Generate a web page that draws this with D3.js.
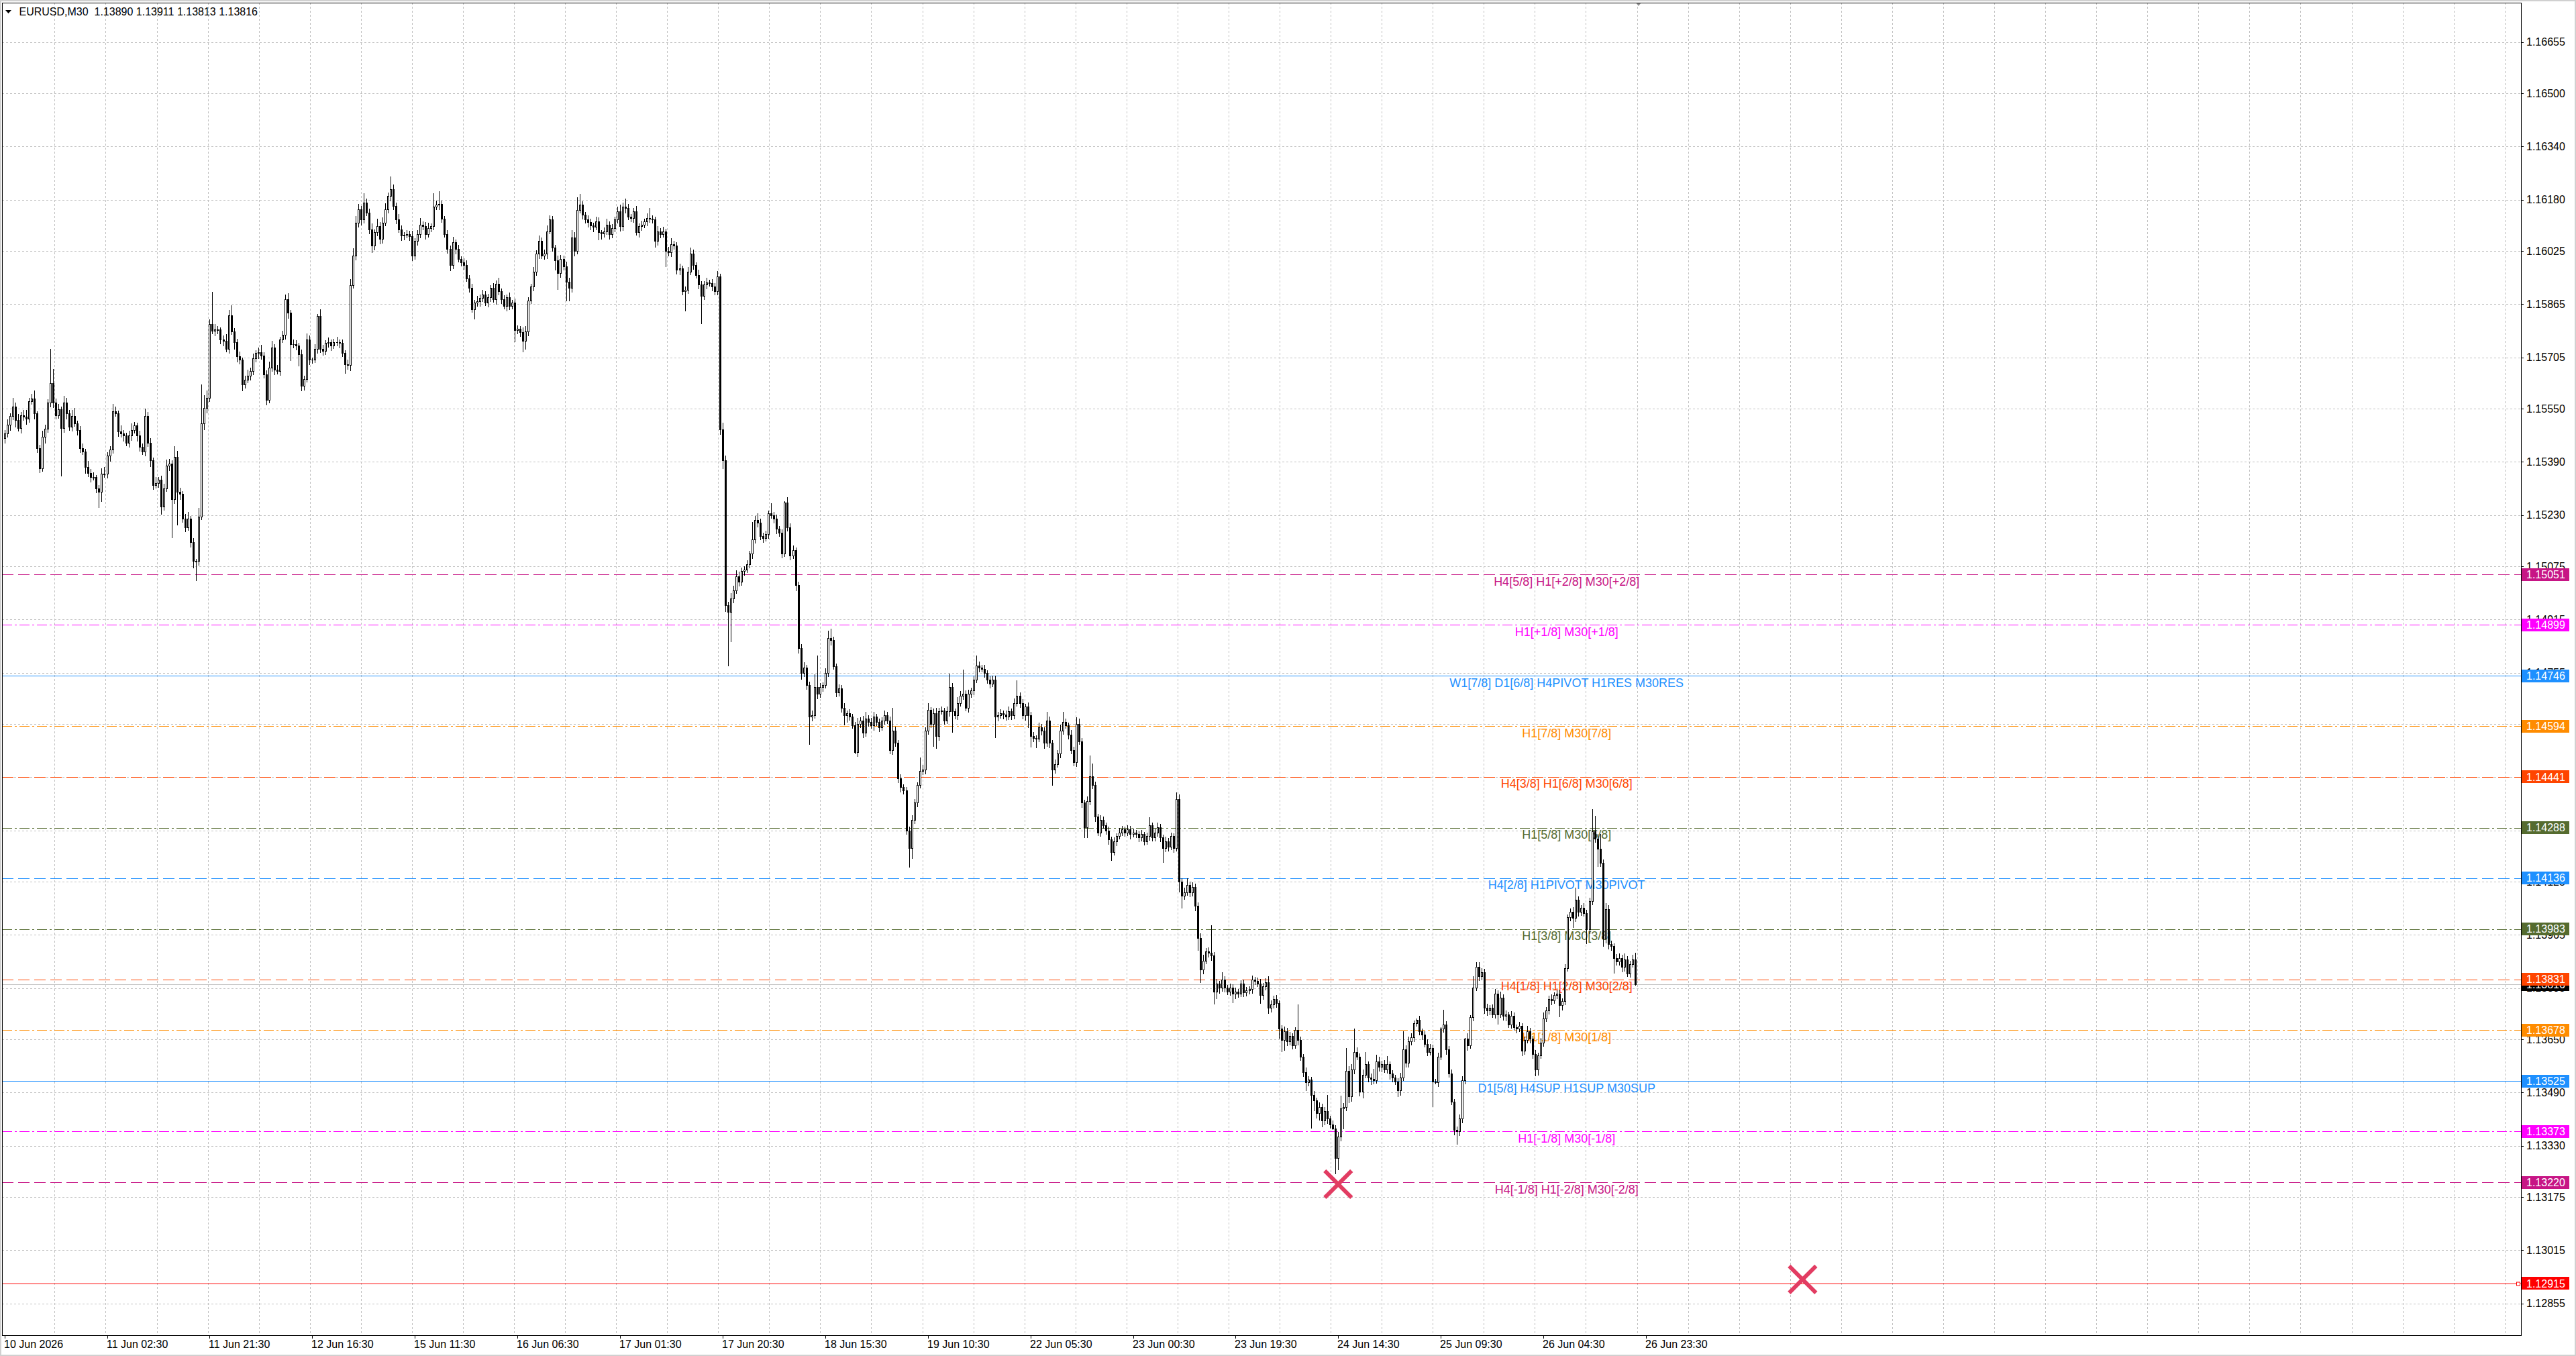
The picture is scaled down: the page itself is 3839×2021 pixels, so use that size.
<!DOCTYPE html>
<html>
<head>
<meta charset="utf-8">
<script src="https://cdn.jsdelivr.net/npm/d3@7"></script>
<style>
html, body { margin: 0; padding: 0; background: #fff; overflow: hidden; }
svg { display: block; }
text { font-family: "Liberation Sans", Arial, sans-serif; }
</style>
</head>
<body>
<script>
const w = 3839;
const h = 2021;

// * DATA
const symbol = "EURUSD,M30";
const timeLabels = [
	"10 Jun 2026", "11 Jun 02:30", "11 Jun 21:30", "12 Jun 16:30", "15 Jun 11:30",
	"16 Jun 06:30", "17 Jun 01:30", "17 Jun 20:30", "18 Jun 15:30", "19 Jun 10:30",
	"22 Jun 05:30", "23 Jun 00:30", "23 Jun 19:30", "24 Jun 14:30", "25 Jun 09:30",
	"26 Jun 04:30", "26 Jun 23:30",
];
const barsPerLabel = 38;
const priceTicks = [
	1.16655, 1.165, 1.1634, 1.1618, 1.16025, 1.15865, 1.15705, 1.1555, 1.1539,
	1.1523, 1.15075, 1.14915, 1.14755, 1.146, 1.1444, 1.1428, 1.14125, 1.13965,
	1.13805, 1.1365, 1.1349, 1.1333, 1.13175, 1.13015, 1.12855,
];

const firstOpen = 1.1546;
// M30 closes, one per bar
const closes = [
	// 0
	1.15474, 1.15500, 1.15528, 1.15555, 1.15515, 1.15490, 1.15530, 1.15525, 1.15520, 1.15572,
	1.15580, 1.15535, 1.15430, 1.15370, 1.15465, 1.15488, 1.15568, 1.15626, 1.15568, 1.15530,
	1.15548, 1.15490, 1.15568, 1.15535, 1.15495, 1.15528, 1.15505, 1.15485, 1.15430, 1.15420,
	1.15373, 1.15356, 1.15343, 1.15343, 1.15309, 1.15299, 1.15353, 1.15353, 1.15407, 1.15427,
	1.15542, 1.15535, 1.15481, 1.15474, 1.15468, 1.15447, 1.15468, 1.15485, 1.15498, 1.15468,
	// 50
	1.15434, 1.15420, 1.15528, 1.15447, 1.15393, 1.15319, 1.15326, 1.15336, 1.15255, 1.15309,
	1.15377, 1.15383, 1.15276, 1.15404, 1.15299, 1.15292, 1.15218, 1.15191, 1.15218, 1.15148,
	1.15090, 1.15090, 1.15225, 1.15504, 1.15551, 1.15582, 1.15804, 1.15784, 1.15787, 1.15787,
	1.15757, 1.15754, 1.15730, 1.15831, 1.15781, 1.15750, 1.15707, 1.15697, 1.15622, 1.15636,
	1.15649, 1.15663, 1.15700, 1.15717, 1.15720, 1.15710, 1.15653, 1.15575, 1.15673, 1.15734,
	// 100
	1.15666, 1.15663, 1.15757, 1.15771, 1.15878, 1.15838, 1.15744, 1.15744, 1.15740, 1.15713,
	1.15619, 1.15639, 1.15757, 1.15697, 1.15697, 1.15730, 1.15828, 1.15730, 1.15723, 1.15747,
	1.15750, 1.15740, 1.15750, 1.15750, 1.15747, 1.15717, 1.15683, 1.15680, 1.15922, 1.16010,
	1.16110, 1.16150, 1.16120, 1.16170, 1.16140, 1.16090, 1.16040, 1.16080, 1.16100, 1.16060,
	1.16110, 1.16150, 1.16190, 1.16210, 1.16160, 1.16120, 1.16090, 1.16070, 1.16072, 1.16074,
	// 150
	1.16068, 1.16011, 1.16055, 1.16074, 1.16104, 1.16100, 1.16074, 1.16094, 1.16099, 1.16158,
	1.16163, 1.16165, 1.16122, 1.16074, 1.16030, 1.15982, 1.16050, 1.16030, 1.16001, 1.15991,
	1.15982, 1.15942, 1.15913, 1.15849, 1.15869, 1.15872, 1.15883, 1.15893, 1.15869, 1.15884,
	1.15913, 1.15879, 1.15925, 1.15903, 1.15879, 1.15859, 1.15884, 1.15859, 1.15869, 1.15786,
	1.15790, 1.15780, 1.15754, 1.15781, 1.15874, 1.15918, 1.15962, 1.16016, 1.16055, 1.16011,
	// 200
	1.16016, 1.16084, 1.16119, 1.16035, 1.15996, 1.15957, 1.16001, 1.15977, 1.15932, 1.15913,
	1.16065, 1.16025, 1.16148, 1.16163, 1.16133, 1.16119, 1.16111, 1.16101, 1.16098, 1.16114,
	1.16080, 1.16077, 1.16082, 1.16104, 1.16074, 1.16094, 1.16119, 1.16143, 1.16099, 1.16158,
	1.16153, 1.16127, 1.16124, 1.16143, 1.16081, 1.16099, 1.16104, 1.16114, 1.16124, 1.16121,
	1.16119, 1.16055, 1.16084, 1.16074, 1.16084, 1.16025, 1.16021, 1.16045, 1.16040, 1.15967,
	// 250
	1.15972, 1.15903, 1.15908, 1.15962, 1.16016, 1.15982, 1.15952, 1.15923, 1.15889, 1.15923,
	1.15930, 1.15928, 1.15918, 1.15903, 1.15947, 1.15487, 1.15393, 1.14957, 1.14938, 1.14977,
	1.15002, 1.15044, 1.15028, 1.15060, 1.15065, 1.15081, 1.15112, 1.15155, 1.15213, 1.15205,
	1.15166, 1.15160, 1.15171, 1.15234, 1.15229, 1.15218, 1.15187, 1.15176, 1.15113, 1.15266,
	1.15192, 1.15107, 1.15123, 1.15018, 1.14827, 1.14753, 1.14769, 1.14716, 1.14621, 1.14626,
	// 300
	1.14711, 1.14690, 1.14711, 1.14716, 1.14753, 1.14859, 1.14852, 1.14774, 1.14695, 1.14706,
	1.14648, 1.14626, 1.14631, 1.14622, 1.14595, 1.14515, 1.14600, 1.14610, 1.14573, 1.14616,
	1.14605, 1.14595, 1.14621, 1.14605, 1.14590, 1.14610, 1.14626, 1.14610, 1.14521, 1.14579,
	1.14542, 1.14436, 1.14410, 1.14399, 1.14278, 1.14225, 1.14310, 1.14362, 1.14415, 1.14458,
	1.14463, 1.14579, 1.14642, 1.14600, 1.14632, 1.14563, 1.14637, 1.14640, 1.14610, 1.14637,
	// 350
	1.14711, 1.14637, 1.14626, 1.14663, 1.14685, 1.14690, 1.14648, 1.14690, 1.14700, 1.14732,
	1.14775, 1.14769, 1.14766, 1.14753, 1.14732, 1.14721, 1.14732, 1.14621, 1.14626, 1.14631,
	1.14628, 1.14621, 1.14637, 1.14626, 1.14663, 1.14685, 1.14663, 1.14626, 1.14653, 1.14626,
	1.14563, 1.14558, 1.14555, 1.14589, 1.14579, 1.14542, 1.14610, 1.14542, 1.14463, 1.14479,
	1.14510, 1.14579, 1.14605, 1.14595, 1.14568, 1.14521, 1.14484, 1.14600, 1.14547, 1.14362,
	// 400
	1.14288, 1.14368, 1.14441, 1.14415, 1.14320, 1.14273, 1.14310, 1.14294, 1.14278, 1.14251,
	1.14214, 1.14246, 1.14262, 1.14273, 1.14283, 1.14273, 1.14283, 1.14267, 1.14273, 1.14267,
	1.14257, 1.14267, 1.14246, 1.14262, 1.14294, 1.14257, 1.14273, 1.14288, 1.14257, 1.14225,
	1.14246, 1.14230, 1.14262, 1.14225, 1.14373, 1.14124, 1.14082, 1.14093, 1.14114, 1.14093,
	1.14109, 1.14051, 1.13955, 1.13860, 1.13887, 1.13914, 1.13910, 1.13902, 1.13794, 1.13817,
	// 450
	1.13806, 1.13829, 1.13806, 1.13794, 1.13806, 1.13786, 1.13794, 1.13786, 1.13817, 1.13790,
	1.13798, 1.13802, 1.13829, 1.13825, 1.13817, 1.13782, 1.13809, 1.13821, 1.13744, 1.13755,
	1.13771, 1.13759, 1.13682, 1.13647, 1.13674, 1.13643, 1.13659, 1.13632, 1.13678, 1.13647,
	1.13597, 1.13551, 1.13520, 1.13528, 1.13481, 1.13465, 1.13427, 1.13446, 1.13404, 1.13434,
	1.13411, 1.13392, 1.13381, 1.13292, 1.13357, 1.13442, 1.13446, 1.13554, 1.13477, 1.13558,
	// 500
	1.13612, 1.13597, 1.13492, 1.13543, 1.13574, 1.13535, 1.13531, 1.13527, 1.13582, 1.13566,
	1.13574, 1.13558, 1.13574, 1.13546, 1.13535, 1.13523, 1.13496, 1.13535, 1.13620, 1.13578,
	1.13643, 1.13655, 1.13698, 1.13709, 1.13674, 1.13663, 1.13636, 1.13612, 1.13624, 1.13523,
	1.13520, 1.13597, 1.13682, 1.13694, 1.13620, 1.13547, 1.13462, 1.13377, 1.13373, 1.13411,
	1.13527, 1.13651, 1.13632, 1.13717, 1.13806, 1.13867, 1.13840, 1.13852, 1.13744, 1.13736,
	// 550
	1.13744, 1.13725, 1.13786, 1.13725, 1.13775, 1.13721, 1.13725, 1.13694, 1.13721, 1.13686,
	1.13682, 1.13690, 1.13616, 1.13647, 1.13674, 1.13651, 1.13605, 1.13558, 1.13601, 1.13640,
	1.13713, 1.13736, 1.13771, 1.13767, 1.13783, 1.13787, 1.13752, 1.13764, 1.13864, 1.14018,
	1.14034, 1.14015, 1.14069, 1.14034, 1.14045, 1.14030, 1.13980, 1.14065, 1.14277, 1.14254,
	1.14223, 1.14181, 1.13953, 1.14041, 1.13937, 1.13930, 1.13894, 1.13883, 1.13894, 1.13867,
	// 600
	1.13891, 1.13848, 1.13875, 1.13890, 1.13816,
];
// upper / lower shadow lengths in points (0.00001)
const wickUp = [
	12,18,9,27,14,20,11,16,22,10,15,25,8,12,19,14,10,104,43,13,
	17,9,21,14,11,18,24,10,13,16,9,20,12,15,8,11,17,22,13,10,
	23,14,9,18,12,10,16,21,13,9,15,11,23,12,14,10,18,9,13,16,
	20,15,11,33,19,12,9,16,21,10,13,8,26,120,40,22,15,98,18,12,
	9,14,20,17,31,12,10,15,8,13,19,11,16,9,14,22,10,12,18,20,
	11,15,9,13,17,21,10,14,12,9,16,11,19,13,8,15,7,22,12,10,
	14,9,11,16,8,12,10,15,18,24,20,16,11,30,14,12,18,10,22,13,
	16,19,12,40,15,11,17,13,10,14,12,18,9,15,20,11,13,16,10,41,
	14,40,12,9,15,11,17,10,13,8,12,16,10,14,9,18,12,15,11,13,
	9,16,12,20,10,14,11,17,9,13,12,10,15,18,11,9,14,12,16,10,
	13,18,14,11,9,15,12,10,17,13,24,16,39,34,12,9,14,11,10,15,
	12,9,14,18,11,13,10,16,22,12,26,14,9,11,17,10,13,9,15,31,
	12,10,16,11,14,9,13,18,10,12,15,9,11,14,20,13,10,16,12,11,
	14,9,12,10,17,10,20,15,12,18,14,20,16,12,10,13,9,53,15,22,
	14,10,12,9,32,11,14,10,10,5,18,12,15,9,11,13,17,10,12,14,
	40,95,13,10,16,22,28,12,9,14,11,16,10,13,9,12,18,11,14,21,
	10,13,16,9,12,11,15,10,13,69,14,10,12,9,11,13,16,12,10,42,
	15,12,21,10,14,18,11,13,9,16,42,12,10,18,14,74,11,13,9,12,
	31,14,10,12,9,11,15,15,10,13,9,12,16,10,14,47,11,13,9,12,
	10,14,9,16,12,11,27,13,10,15,12,20,32,11,9,14,10,21,16,12,
	11,14,64,40,12,10,15,11,9,13,10,12,9,14,11,8,13,10,12,9,
	11,14,9,12,26,10,13,15,11,9,14,10,12,9,21,16,11,14,21,12,
	15,10,12,14,18,11,13,85,12,15,10,23,11,9,13,10,12,9,12,14,
	11,9,13,10,12,15,11,14,20,12,10,13,9,11,14,10,13,9,8,77,
	12,10,14,11,9,13,10,15,11,12,48,10,13,11,14,39,12,70,15,18,
	70,14,12,16,38,10,13,30,23,15,11,13,26,10,12,9,11,14,54,12,
	16,13,10,4,12,9,11,15,13,10,9,14,4,46,12,10,13,9,11,14,
	12,4,18,6,35,16,16,12,10,13,9,11,16,12,19,10,13,9,14,11,
	10,13,9,12,16,11,10,13,9,14,18,12,10,14,9,11,13,10,12,8,
	11,14,38,12,10,15,11,13,66,47,16,46,12,20,14,11,10,13,15,12,
	19,11,13,15,21,
];
const wickDown = [
	14,10,16,12,21,9,15,11,18,13,10,16,12,14,10,19,11,13,15,12,
	10,144,12,17,11,14,9,16,13,10,18,12,15,9,14,47,30,11,13,16,
	12,9,15,11,17,10,13,14,9,16,12,10,14,11,18,13,9,15,23,12,
	10,14,115,12,100,16,11,13,9,15,20,60,12,10,18,14,11,9,16,13,
	12,15,10,14,9,22,18,13,20,11,9,14,12,10,16,13,11,15,9,12,
	14,10,13,9,12,16,51,11,14,35,17,13,10,15,12,9,14,11,13,10,
	12,15,9,11,14,10,27,13,16,10,12,14,18,11,9,15,20,12,10,14,
	13,9,11,16,12,14,10,15,12,9,13,16,11,14,10,12,15,9,13,11,
	10,14,12,9,13,18,11,15,10,12,14,9,13,10,29,12,15,11,9,14,
	12,10,16,11,13,9,15,12,10,35,11,14,34,25,12,9,13,11,15,10,
	12,14,9,11,29,49,13,10,58,39,12,15,10,9,13,11,14,12,16,10,
	22,18,12,9,14,11,13,10,15,12,14,9,11,13,10,16,12,9,14,11,
	10,20,13,11,9,48,12,14,10,13,15,11,59,12,9,14,10,13,84,11,
	12,9,14,11,10,15,25,18,164,90,12,10,14,11,13,9,12,15,10,13,
	11,14,9,12,10,13,15,11,14,9,12,13,10,18,14,20,11,13,84,12,
	10,14,11,13,9,12,15,10,13,11,14,30,22,12,9,5,13,11,15,10,
	12,9,14,11,13,10,12,9,11,14,10,13,15,11,12,58,30,10,13,9,
	12,14,10,11,69,37,13,9,12,10,14,63,11,13,9,12,10,14,11,13,
	9,12,10,13,11,14,9,63,12,10,13,11,9,14,12,10,13,11,15,37,
	33,12,28,10,13,16,11,14,48,12,10,13,11,9,14,12,11,13,10,15,
	31,31,12,10,14,11,13,9,12,15,26,10,13,9,11,12,10,14,9,11,
	13,10,12,9,14,11,10,12,13,42,11,14,10,12,9,31,37,12,10,14,
	12,15,37,39,13,10,12,14,39,22,18,11,13,10,12,27,14,11,9,13,
	10,12,14,11,9,25,13,10,16,12,11,14,30,35,30,13,10,12,9,14,
	11,13,25,10,100,30,14,22,18,12,15,11,4,47,35,13,62,11,19,15,
	12,10,14,20,9,13,18,11,10,12,14,9,11,16,13,10,19,15,9,12,
	12,10,13,9,11,14,10,12,9,77,4,13,10,12,15,11,9,16,39,13,
	14,11,15,9,12,10,13,11,16,14,12,10,11,31,9,13,15,10,12,9,
	13,10,15,11,9,12,14,19,16,10,12,9,11,13,10,12,35,14,11,9,
	12,28,10,14,11,9,43,13,10,12,54,11,23,14,15,12,46,11,10,15,
	12,10,11,9,3,
];

// Murrey-math style levels
const levelPrices = [
	1.15051, 1.14899, 1.14746, 1.14594, 1.14441, 1.14288, 1.14136,
	1.13983, 1.13831, 1.13678, 1.13525, 1.13373, 1.1322,
];
const levelNames = [
	"H4[5/8] H1[+2/8] M30[+2/8]",
	"H1[+1/8] M30[+1/8]",
	"W1[7/8] D1[6/8] H4PIVOT H1RES M30RES",
	"H1[7/8] M30[7/8]",
	"H4[3/8] H1[6/8] M30[6/8]",
	"H1[5/8] M30[5/8]",
	"H4[2/8] H1PIVOT M30PIVOT",
	"H1[3/8] M30[3/8]",
	"H4[1/8] H1[2/8] M30[2/8]",
	"H1[1/8] M30[1/8]",
	"D1[5/8] H4SUP H1SUP M30SUP",
	"H1[-1/8] M30[-1/8]",
	"H4[-1/8] H1[-2/8] M30[-2/8]",
];
const targetPrice = 1.12915;
const markerBars = [494, 666];
const markerPrices = [1.13214, 1.12927];

// * STYLES
const levelColors = [
	"#C71585", "#FF00FF", "#1E90FF", "#FF8C00", "#FF4500", "#556B2F", "#1E90FF",
	"#556B2F", "#FF4500", "#FF8C00", "#1E90FF", "#FF00FF", "#C71585",
];
const levelStyles = [
	"dash", "dashdot", "solid", "dashdot", "dash", "dashdot", "dash",
	"dashdot", "dash", "dashdot", "solid", "dashdot", "dash",
];
const dashes = { dash: "17,7", dashdot: "15,4,3,4", solid: null };
const gridColor = "#c0c0c0";
const markerColor = "#E23C62";

// * LAYOUT
const plotLeft = 3;
const plotTop = 4;
const plotRight = 3757;
const plotBottom = 1990;
const gridX0 = 5.3;
const gridStep = 76.07;
const levelTextBar = 578.6;

// * BARS
const bars = closes.map((c, i) => {
	const o = i ? closes[i - 1] : firstOpen;
	return {
		i: i,
		o: o,
		c: c,
		h: Math.max(o, c) + (wickUp[i] || 0) * 1e-5,
		l: Math.min(o, c) - (wickDown[i] || 0) * 1e-5,
	};
});
const last = bars[bars.length - 1];
const fmt = d3.format(".5f");

// * SCALES
const xScale = d3
	.scaleLinear()
	.domain([0, barsPerLabel * (timeLabels.length - 1)])
	.range([6.6, 2453]);
const yScale = d3.scaleLinear().domain([1.12855, 1.16655]).range([1942.6, 62.5]);
const snap = (v) => Math.round(v) + 0.5;

// * SVG
const svg = d3
	.select("body")
	.append("svg")
	.attr("width", w)
	.attr("height", h);

svg.append("rect").attr("width", w).attr("height", h).attr("fill", "#fff");
svg.append("rect")
	.attr("x", 1)
	.attr("y", 1)
	.attr("width", w - 2)
	.attr("height", h - 2)
	.attr("fill", "none")
	.attr("stroke", "#d0d0d0")
	.attr("stroke-width", 2);

svg.append("clipPath")
	.attr("id", "plot")
	.append("rect")
	.attr("x", plotLeft)
	.attr("y", plotTop)
	.attr("width", plotRight - plotLeft)
	.attr("height", plotBottom - plotTop);

const plot = svg.append("g").attr("clip-path", "url(#plot)");

// * GRID
const grid = plot.append("g").attr("shape-rendering", "crispEdges");
grid.selectAll("line.h")
	.data(priceTicks)
	.enter()
	.append("line")
	.attr("x1", plotLeft)
	.attr("x2", plotRight)
	.attr("y1", (d) => snap(yScale(d)))
	.attr("y2", (d) => snap(yScale(d)))
	.attr("stroke", gridColor)
	.attr("stroke-dasharray", "3,3");
grid.selectAll("line.v")
	.data(d3.range(1, Math.floor((plotRight - gridX0) / gridStep) + 1))
	.enter()
	.append("line")
	.attr("x1", (k) => snap(gridX0 + gridStep * k))
	.attr("x2", (k) => snap(gridX0 + gridStep * k))
	.attr("y1", plotTop)
	.attr("y2", plotBottom)
	.attr("stroke", gridColor)
	.attr("stroke-dasharray", "3,3");

// * LEVEL LINES
const lines = plot.append("g").attr("shape-rendering", "crispEdges");
lines.selectAll("line")
	.data(levelPrices)
	.enter()
	.append("line")
	.attr("x1", plotLeft)
	.attr("x2", plotRight)
	.attr("y1", (d) => snap(yScale(d)))
	.attr("y2", (d) => snap(yScale(d)))
	.attr("stroke", (d, i) => levelColors[i])
	.attr("stroke-dasharray", (d, i) => dashes[levelStyles[i]]);
lines.append("line")
	.attr("x1", plotLeft)
	.attr("x2", plotRight)
	.attr("y1", snap(yScale(targetPrice)))
	.attr("y2", snap(yScale(targetPrice)))
	.attr("stroke", "#FF0000");
lines.append("line")
	.attr("x1", plotLeft)
	.attr("x2", plotRight)
	.attr("y1", snap(yScale(last.c)))
	.attr("y2", snap(yScale(last.c)))
	.attr("stroke", "#c0c0c0");
plot.append("rect")
	.attr("x", plotRight - 6.5)
	.attr("y", snap(yScale(targetPrice)) - 2.5)
	.attr("width", 5)
	.attr("height", 5)
	.attr("fill", "#fff")
	.attr("stroke", "#FF0000");

// * LEVEL TEXTS
plot.append("g")
	.selectAll("text")
	.data(levelPrices)
	.enter()
	.append("text")
	.attr("x", xScale(levelTextBar))
	.attr("y", (d) => yScale(d) + 16.5)
	.attr("text-anchor", "middle")
	.attr("font-size", 18)
	.attr("fill", (d, i) => levelColors[i])
	.text((d, i) => levelNames[i]);

// * CANDLES
const candles = plot.append("g").attr("shape-rendering", "crispEdges");
candles.selectAll("line")
	.data(bars)
	.enter()
	.append("line")
	.attr("x1", (d) => Math.round(xScale(d.i)) + 0.5)
	.attr("x2", (d) => Math.round(xScale(d.i)) + 0.5)
	.attr("y1", (d) => yScale(d.h))
	.attr("y2", (d) => yScale(d.l))
	.attr("stroke", "#000");
candles.selectAll("rect")
	.data(bars)
	.enter()
	.append("rect")
	.attr("x", (d) => Math.round(xScale(d.i)) - 0.5)
	.attr("y", (d) => yScale(Math.max(d.o, d.c)))
	.attr("width", 2)
	.attr("height", (d) => Math.max(0.5, Math.abs(yScale(d.o) - yScale(d.c))))
	.attr("fill", (d) => (d.c >= d.o ? "#fff" : "#000"))
	.attr("stroke", "#000");

// * MARKERS
plot.append("g")
	.selectAll("path")
	.data(markerBars)
	.enter()
	.append("path")
	.attr("d", (d, i) => {
		const cx = xScale(d);
		const cy = yScale(markerPrices[i]);
		const r = 20;
		return `M${cx - r},${cy - r}L${cx + r},${cy + r}M${cx + r},${cy - r}L${cx - r},${cy + r}`;
	})
	.attr("stroke", markerColor)
	.attr("stroke-width", 6)
	.attr("fill", "none");

// chart shift marker
const shiftX = xScale(last.i) + 5;
svg.append("path")
	.attr("d", `M${shiftX - 4},${plotTop}L${shiftX + 4},${plotTop}L${shiftX},${plotTop + 5}Z`)
	.attr("fill", "#909090");

// * FRAME
svg.append("path")
	.attr("d", `M${plotLeft + 0.5},${plotBottom + 0.5}V${plotTop + 0.5}H${plotRight + 0.5}V${plotBottom + 0.5}Z`)
	.attr("fill", "none")
	.attr("stroke", "#000")
	.attr("shape-rendering", "crispEdges");

// * Y AXIS (right)
const yAxis = svg.append("g");
yAxis.selectAll("line")
	.data(priceTicks)
	.enter()
	.append("line")
	.attr("x1", plotRight)
	.attr("x2", plotRight + 4)
	.attr("y1", (d) => snap(yScale(d)))
	.attr("y2", (d) => snap(yScale(d)))
	.attr("stroke", "#000")
	.attr("shape-rendering", "crispEdges");
yAxis.selectAll("text")
	.data(priceTicks)
	.enter()
	.append("text")
	.attr("x", plotRight + 8)
	.attr("y", (d) => yScale(d))
	.attr("dy", "0.35em")
	.attr("font-size", 16)
	.attr("fill", "#000")
	.text((d) => fmt(d));

function priceBox(price, color) {
	const g = svg.append("g");
	g.append("rect")
		.attr("x", plotRight + 1)
		.attr("y", Math.round(yScale(price) - 9.5))
		.attr("width", 71)
		.attr("height", 19)
		.attr("fill", color);
	g.append("text")
		.attr("x", plotRight + 8)
		.attr("y", yScale(price))
		.attr("dy", "0.35em")
		.attr("font-size", 16)
		.attr("fill", "#fff")
		.text(fmt(price));
}
priceBox(last.c, "#000");
levelPrices.forEach((p, i) => priceBox(p, levelColors[i]));
priceBox(targetPrice, "#FF0000");

// * X AXIS
const xAxis = svg.append("g");
xAxis.selectAll("line")
	.data(timeLabels)
	.enter()
	.append("line")
	.attr("x1", (d, i) => Math.round(xScale(i * barsPerLabel)) + 0.5)
	.attr("x2", (d, i) => Math.round(xScale(i * barsPerLabel)) + 0.5)
	.attr("y1", plotBottom)
	.attr("y2", plotBottom + 5)
	.attr("stroke", "#000")
	.attr("shape-rendering", "crispEdges");
xAxis.selectAll("text")
	.data(timeLabels)
	.enter()
	.append("text")
	.attr("x", (d, i) => Math.round(xScale(i * barsPerLabel)) - 1)
	.attr("y", plotBottom + 19)
	.attr("font-size", 16)
	.attr("fill", "#000")
	.text((d) => d);

// * HEADER
svg.append("path").attr("d", "M8,15L17,15L12.5,20Z").attr("fill", "#000");
svg.append("text")
	.attr("x", 28.5)
	.attr("y", 23)
	.attr("font-size", 16)
	.attr("fill", "#000")
	.style("white-space", "pre")
	.text(`${symbol}  ${fmt(last.o)} ${fmt(last.h)} ${fmt(last.l)} ${fmt(last.c)}`);

console.log("bars", closes.length, wickUp.length, wickDown.length);
</script>
</body>
</html>
